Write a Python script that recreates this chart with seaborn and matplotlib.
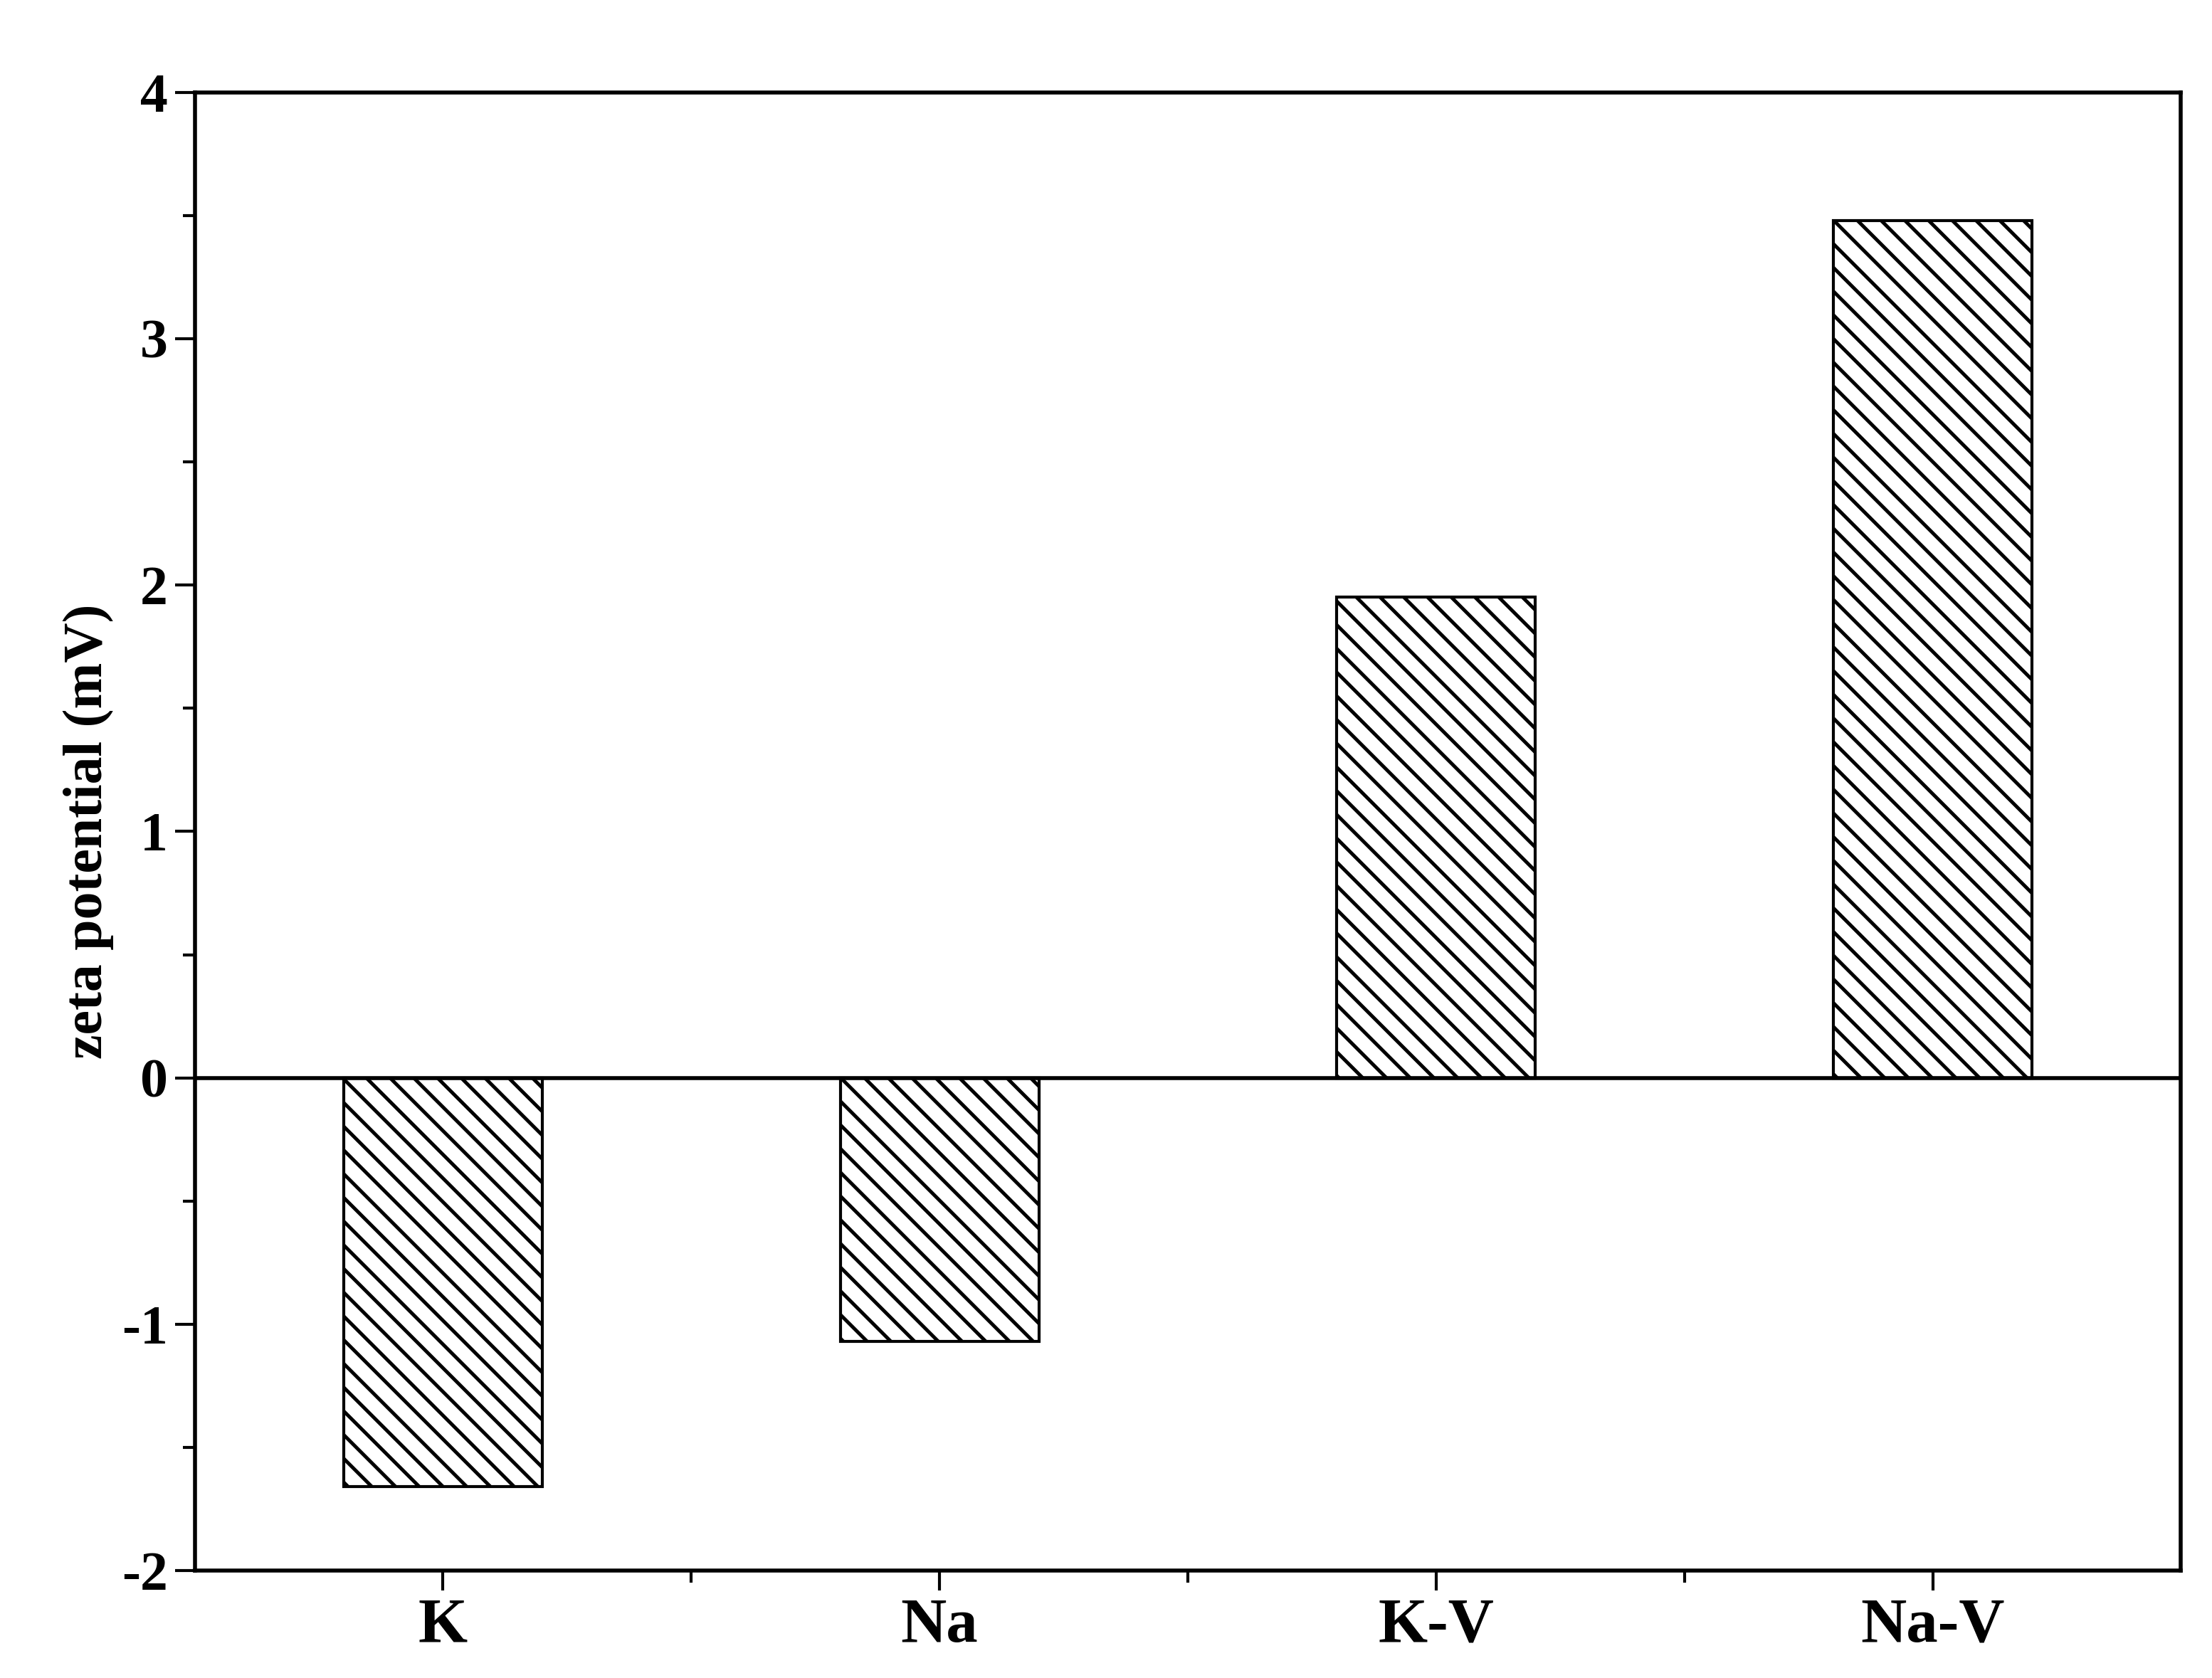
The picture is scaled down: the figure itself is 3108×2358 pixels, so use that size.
import matplotlib
matplotlib.use("Agg")
import matplotlib.pyplot as plt
import seaborn as sns
import pandas as pd
from matplotlib.ticker import MultipleLocator

categories = ["K", "Na", "K-V", "Na-V"]
values = [-1.66, -1.07, 1.95, 3.48]

sns.set_theme(style="ticks")
plt.rcParams['font.family'] = ['Liberation Serif', 'DejaVu Serif']
plt.rcParams['font.weight'] = 'bold'
plt.rcParams['hatch.linewidth'] = 1.8
plt.rcParams['axes.unicode_minus'] = False
plt.rcParams['text.color'] = 'black'
plt.rcParams['axes.labelcolor'] = 'black'
plt.rcParams['xtick.color'] = 'black'
plt.rcParams['ytick.color'] = 'black'

fig = plt.figure(figsize=(15.54, 11.79), dpi=200)
ax = fig.add_axes([0.088, 0.064, 0.898, 0.881])
df = pd.DataFrame({"cat": categories, "val": values})
sns.barplot(data=df, x="cat", y="val", ax=ax, color="white", width=0.4,
            edgecolor="black", linewidth=1.5, hatch="\\\\")
ax.axhline(0, color="black", lw=2)
ax.set_xlim(-0.5, 3.5)
ax.set_ylim(-2, 4)
ax.yaxis.set_major_locator(MultipleLocator(1))
ax.yaxis.set_minor_locator(MultipleLocator(0.5))
ax.set_xticks(range(4))
ax.set_xticks([0.5, 1.5, 2.5], minor=True)
ax.set_xlabel("")
ax.set_ylabel("zeta potential (mV)", fontsize=28, fontweight="bold", color="black")
ax.tick_params(axis="x", labelsize=32, width=1.5, length=10, direction="out")
ax.tick_params(axis="y", labelsize=28, width=1.5, length=10, direction="out")
ax.tick_params(which="minor", width=1.5, length=6, direction="out")
for lab in ax.get_xticklabels() + ax.get_yticklabels():
    lab.set_fontweight("bold")
    lab.set_color("black")
for s in ax.spines.values():
    s.set_linewidth(2)
    s.set_color("black")
fig.savefig("out.png", dpi=200, facecolor="white")
